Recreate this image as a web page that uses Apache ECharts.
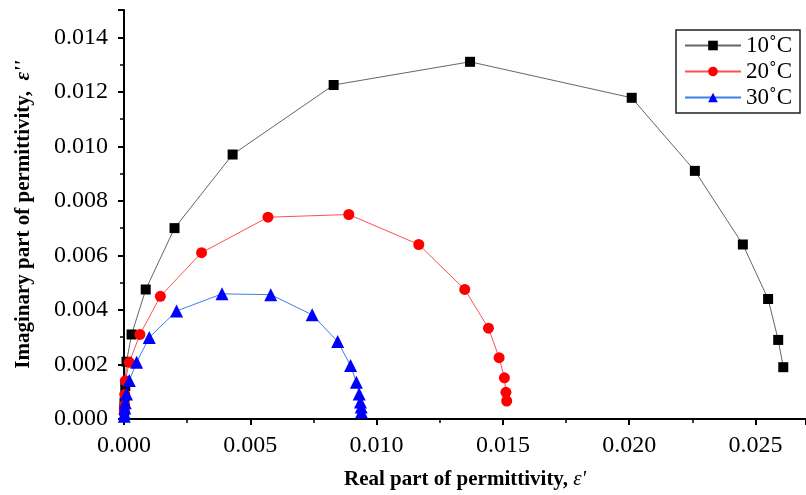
<!DOCTYPE html>
<html><head><meta charset="utf-8">
<script src="https://cdn.jsdelivr.net/npm/echarts@6/dist/echarts.min.js"></script>
<style>html,body{margin:0;padding:0;background:#fff}#c{width:806px;height:495px}</style>
</head><body><div id="c"></div>
<script>
const seriesNames = ['10˚C', '20˚C', '30˚C'];
const xTicks = ['0.000','0.005','0.010','0.015','0.020','0.025'];
const yTicks = ['0.000','0.002','0.004','0.006','0.008','0.010','0.012','0.014'];
// [real, imaginary]
const data10 = [[0.00001,0.0003],[0.00002,0.0006],[0.00005,0.0012],[0.0001,0.0021],[0.0003,0.0031],[0.00086,0.00475],[0.0020,0.0070],[0.0043,0.0097],[0.0083,0.01225],[0.0137,0.0131],[0.0201,0.01178],[0.0226,0.0091],[0.0245,0.0064],[0.0255,0.0044],[0.0259,0.0029],[0.0261,0.0019]];
const data20 = [[0.00001,0.0003],[0.00002,0.0005],[0.00003,0.0009],[0.00005,0.0014],[0.00021,0.00208],[0.00063,0.0031],[0.00144,0.0045],[0.00307,0.0061],[0.0057,0.0074],[0.0089,0.0075],[0.01167,0.0064],[0.01349,0.00475],[0.01443,0.00333],[0.01485,0.00225],[0.01506,0.00151],[0.01512,0.00098],[0.01515,0.00066]];
const data30 = [[0.00001,0.0001],[0.00002,0.0002],[0.00003,0.0004],[0.00005,0.0006],[0.0001,0.00092],[0.00021,0.00141],[0.0005,0.00208],[0.0010,0.00299],[0.00208,0.00396],[0.00388,0.00459],[0.00581,0.00456],[0.00745,0.00382],[0.00846,0.00284],[0.00897,0.00196],[0.0092,0.00135],[0.00931,0.00092],[0.00936,0.00062],[0.00939,0.00044],[0.0094,0.00026]];

const font = '"Liberation Serif","Times New Roman",serif';
const chart = echarts.init(document.getElementById('c'), null, {renderer:'canvas'});
const axisCommon = {
  axisLine:{show:true,onZero:false,lineStyle:{color:'#000',width:2}},
  axisTick:{show:true,inside:false,length:6,lineStyle:{color:'#000',width:2}},
  minorTick:{show:true,splitNumber:2,length:4,lineStyle:{color:'#000',width:1.5}},
  splitLine:{show:false},
  nameLocation:'middle',
  nameTextStyle:{fontFamily:font,fontWeight:'bold',fontSize:21,color:'#000'}
};
chart.setOption({
  animation:false,
  backgroundColor:'#fff',
  grid:{left:124,top:10,width:682,bottom:73,containLabel:false},
  xAxis:Object.assign({}, axisCommon, {
    type:'value', min:0, max:0.027, interval:0.005,
    name:'Real part of permittivity, {e|ε\'}', nameGap:50,
    nameTextStyle:{fontFamily:font,fontWeight:'bold',fontSize:21,color:'#000',
      rich:{e:{fontFamily:font,fontStyle:'italic',fontWeight:'normal',fontSize:21,color:'#000'}}},
    axisLabel:{fontFamily:font,fontSize:24,color:'#000',margin:15,showMaxLabel:false,
      formatter:v=>{const i=Math.round(v/0.005);return Math.abs(v-i*0.005)<1e-9?xTicks[i]:'';}}
  }),
  yAxis:Object.assign({}, axisCommon, {
    type:'value', min:0, max:0.015, interval:0.002,
    name:'Imaginary part of permittivity,  {e|ε\'\'}', nameGap:90,
    nameTextStyle:{fontFamily:font,fontWeight:'bold',fontSize:21,color:'#000',
      rich:{e:{fontFamily:font,fontStyle:'italic',fontWeight:'bold',fontSize:21,color:'#000'}}},
    axisLabel:{fontFamily:font,fontSize:24,color:'#000',margin:16,showMaxLabel:false,
      formatter:v=>{const i=Math.round(v/0.002);return Math.abs(v-i*0.002)<1e-9?yTicks[i]:'';}}
  }),
  legend:{
    show:true, right:6, top:30, orient:'vertical',
    itemWidth:56, itemHeight:12, itemGap:3,
    padding:[4,8,4,8],
    borderColor:'#222', borderWidth:1.5, borderRadius:0,
    textStyle:{fontFamily:font,fontSize:23,color:'#000'},
    data:seriesNames
  },
  series:[
    {name:seriesNames[0],type:'line',data:data10,symbol:'rect',symbolSize:10,
     lineStyle:{color:'#666',width:1},itemStyle:{color:'#000'}},
    {name:seriesNames[1],type:'line',data:data20,symbol:'circle',symbolSize:11,
     lineStyle:{color:'#ff5050',width:1},itemStyle:{color:'#ff0000'}},
    {name:seriesNames[2],type:'line',data:data30,symbol:'triangle',symbolSize:13,
     lineStyle:{color:'#3a80e8',width:1},itemStyle:{color:'#0000ff'}}
  ]
});
</script></body></html>
